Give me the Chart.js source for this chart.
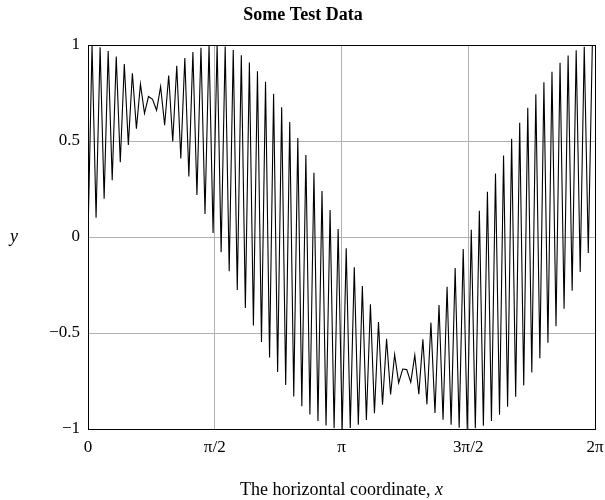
<!DOCTYPE html>
<html><head><meta charset="utf-8">
<script src="https://cdn.jsdelivr.net/npm/chart.js@4.4.0/dist/chart.umd.min.js"></script>
<style>html,body{margin:0;padding:0;background:#fff}#wrap{width:605px;height:500px;position:relative}</style>
</head><body><div id="wrap"><canvas id="c"></canvas></div>
<script>
const titleText = "Some Test Data";
const xLabelText = "The horizontal coordinate, ";
const xLabelVar = "x";
const yLabelText = "y";
const xTickValues = [0, 1.5707963, 3.1415927, 4.7123890, 6.2831853];
const xTickLabels = ["0", "π/2", "π", "3π/2", "2π"];
const yTickValues = [-1, -0.5, 0, 0.5, 1];
const yTickLabels = ["−1", "−0.5", "0", "0.5", "1"];

const xValues = [
  0, 0.05, 0.1, 0.15, 0.2, 0.25, 0.3, 0.35, 0.4, 0.45,
  0.5, 0.55, 0.6, 0.65, 0.7, 0.75, 0.8, 0.85, 0.9, 0.95,
  1.0, 1.05, 1.1, 1.15, 1.2, 1.25, 1.3, 1.35, 1.4, 1.45,
  1.5, 1.55, 1.6, 1.65, 1.7, 1.75, 1.8, 1.85, 1.9, 1.95,
  2.0, 2.05, 2.1, 2.15, 2.2, 2.25, 2.3, 2.35, 2.4, 2.45,
  2.5, 2.55, 2.6, 2.65, 2.7, 2.75, 2.8, 2.85, 2.9, 2.95,
  3.0, 3.05, 3.1, 3.15, 3.2, 3.25, 3.3, 3.35, 3.4, 3.45,
  3.5, 3.55, 3.6, 3.65, 3.7, 3.75, 3.8, 3.85, 3.9, 3.95,
  4.0, 4.05, 4.1, 4.15, 4.2, 4.25, 4.3, 4.35, 4.4, 4.45,
  4.5, 4.55, 4.6, 4.65, 4.7, 4.75, 4.8, 4.85, 4.9, 4.95,
  5.0, 5.05, 5.1, 5.15, 5.2, 5.25, 5.3, 5.35, 5.4, 5.45,
  5.5, 5.55, 5.6, 5.65, 5.7, 5.75, 5.8, 5.85, 5.9, 5.95,
  6.0, 6.05, 6.1, 6.15, 6.2, 6.25
];
const yValues = [
  0, 0.9988, 0.0998, 0.9888, 0.1987, 0.9689, 0.2955, 0.9394, 0.3894, 0.9004,
  0.4794, 0.8525, 0.5646, 0.7961, 0.6442, 0.7317, 0.7174, 0.6600, 0.7833, 0.5817,
  0.8415, 0.4976, 0.8912, 0.4085, 0.9320, 0.3153, 0.9636, 0.2190, 0.9854, 0.1205,
  0.9975, 0.0208, 0.9996, -0.0792, 0.9917, -0.1782, 0.9738, -0.2756, 0.9463, -0.3702,
  0.9093, -0.4611, 0.8632, -0.5474, 0.8085, -0.6282, 0.7457, -0.7027, 0.6755, -0.7702,
  0.5985, -0.8301, 0.5155, -0.8816, 0.4274, -0.9243, 0.3350, -0.9578, 0.2392, -0.9817,
  0.1411, -0.9958, 0.0416, -1.0000, -0.0584, -0.9941, -0.1578, -0.9784, -0.2555, -0.9528,
  -0.3508, -0.9178, -0.4425, -0.8735, -0.5298, -0.8206, -0.6119, -0.7594, -0.6878, -0.6907,
  -0.7568, -0.6150, -0.8183, -0.5332, -0.8716, -0.4461, -0.9162, -0.3545, -0.9516, -0.2594,
  -0.9775, -0.1617, -0.9937, -0.0624, -0.9999, 0.0376, -0.9962, 0.1372, -0.9825, 0.2353,
  -0.9589, 0.3313, -0.9258, 0.4238, -0.8835, 0.5121, -0.8323, 0.5953, -0.7728, 0.6725,
  -0.7055, 0.7430, -0.6313, 0.8061, -0.5507, 0.8612, -0.4646, 0.9077, -0.3739, 0.9450,
  -0.2794, 0.9729, -0.1822, 0.9911, -0.0831, 0.9994
];

const FONT = "'Liberation Serif', 'DejaVu Serif', serif";

const textPlugin = {
  id: 'texts',
  afterDraw(chart) {
    const ctx = chart.ctx, a = chart.chartArea;
    ctx.save();
    // frame
    ctx.strokeStyle = '#000';
    ctx.lineWidth = 1;
    ctx.strokeRect(Math.round(a.left) + 0.5, Math.round(a.top) + 0.5,
                   Math.round(a.right - a.left), Math.round(a.bottom - a.top));
    // title
    ctx.fillStyle = '#000';
    ctx.textBaseline = 'alphabetic';
    ctx.textAlign = 'center';
    ctx.font = "bold 18px " + FONT;
    ctx.fillText(titleText, 303, 20);
    // x label
    ctx.font = "18px " + FONT;
    const w1 = ctx.measureText(xLabelText).width;
    ctx.font = "italic 18px " + FONT;
    const w2 = ctx.measureText(xLabelVar).width;
    const cx = (a.left + a.right) / 2;
    const sx = cx - (w1 + w2) / 2;
    ctx.textAlign = 'left';
    ctx.font = "18px " + FONT;
    ctx.fillText(xLabelText, sx, 495);
    ctx.font = "italic 18px " + FONT;
    ctx.fillText(xLabelVar, sx + w1, 495);
    // y label
    ctx.textAlign = 'center';
    ctx.textBaseline = 'middle';
    ctx.font = "italic 18px " + FONT;
    ctx.fillText(yLabelText, 14, (a.top + a.bottom) / 2);
    ctx.restore();
  }
};

new Chart(document.getElementById('c'), {
  type: 'scatter',
  data: {
    datasets: [{
      data: xValues.map((x, i) => ({ x: x, y: yValues[i] })),
      showLine: true,
      borderColor: '#000',
      borderWidth: 1.1,
      pointRadius: 0,
      tension: 0,
      fill: false
    }]
  },
  options: {
    responsive: true,
    maintainAspectRatio: false,
    animation: false,
    devicePixelRatio: 1,
    layout: { padding: { top: 45, right: 10, left: 0, bottom: 0 } },
    plugins: { legend: { display: false }, title: { display: false }, tooltip: { enabled: false } },
    scales: {
      x: {
        type: 'linear',
        min: 0, max: 6.2831853,
        afterBuildTicks: s => { s.ticks = xTickValues.map(v => ({ value: v })); },
        afterFit: s => { s.height = 71; s.paddingLeft = 0; s.paddingRight = 0; },
        ticks: {
          color: '#000', font: { family: FONT, size: 17 }, padding: 8,
          maxRotation: 0, autoSkip: false,
          callback: (v, i) => xTickLabels[i]
        },
        grid: { color: '#b0b0b0', lineWidth: 1, drawTicks: false },
        border: { display: false }
      },
      y: {
        type: 'linear',
        min: -1, max: 1,
        afterBuildTicks: s => { s.ticks = yTickValues.map(v => ({ value: v })); },
        afterFit: s => { s.width = 88; s.paddingTop = 0; s.paddingBottom = 0; },
        ticks: {
          color: '#000', font: { family: FONT, size: 17 }, padding: 8,
          callback: (v, i) => yTickLabels[i]
        },
        grid: { color: '#b0b0b0', lineWidth: 1, drawTicks: false },
        border: { display: false }
      }
    }
  },
  plugins: [textPlugin]
});
</script>
</body></html>
